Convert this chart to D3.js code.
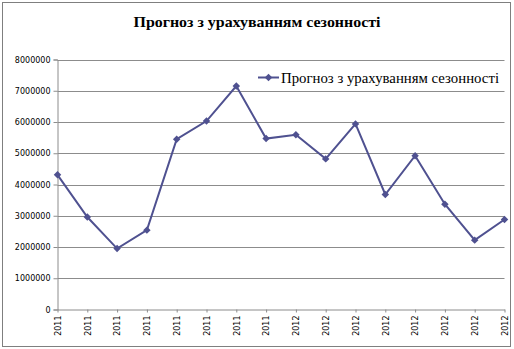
<!DOCTYPE html>
<html><head><meta charset="utf-8">
<script src="https://cdn.jsdelivr.net/npm/d3@7"></script>
<style>html,body{margin:0;padding:0;background:#fff}svg{display:block}</style>
</head><body>
<svg id="c" width="514" height="349"></svg>
<script>
const title = "Прогноз з урахуванням сезонності";
const seriesName = "Прогноз з урахуванням сезонності";
const categories = ["2011","2011","2011","2011","2011","2011","2011","2011","2012","2012","2012","2012","2012","2012","2012","2012"];
const values = [4310000, 2960000, 1950000, 2540000, 5450000, 6030000, 7150000, 5470000, 5590000, 4820000, 5940000, 3680000, 4920000, 3370000, 2220000, 2880000];
const yTicks = [0, 1000000, 2000000, 3000000, 4000000, 5000000, 6000000, 7000000, 8000000];

const svg = d3.select("#c");
const color = "#4F5190";
const grid = "#8c8c8c";

svg.append("rect").attr("x",2.5).attr("y",2.5).attr("width",508).attr("height",344)
  .attr("fill","#fff").attr("stroke","#7f7f7f").attr("stroke-width",1);

svg.append("text").attr("x",257).attr("y",27).attr("text-anchor","middle")
  .attr("font-family","Liberation Serif, Times New Roman, serif").attr("font-weight","bold")
  .attr("font-size","15.5px").attr("fill","#000").attr("textLength",247).attr("lengthAdjust","spacingAndGlyphs").text(title);

const idx = categories.map((d,i)=>i);
const x = d3.scalePoint().domain(idx).range([57.5, 504.5]);
const y = d3.scaleLinear().domain([0, 8000000]).range([309.5, 59.5]);

// gridlines
svg.append("g").selectAll("line").data(yTicks.slice(1)).join("line")
  .attr("x1",57.5).attr("x2",504.5).attr("y1",d=>Math.round(y(d))+0.5).attr("y2",d=>Math.round(y(d))+0.5)
  .attr("stroke",grid).attr("stroke-width",1);

// y axis
const yAxis = svg.append("g").attr("transform","translate(57.5,0)")
  .call(d3.axisLeft(y).tickValues(yTicks).tickFormat(d3.format("d")).tickSize(4).tickPadding(3));
yAxis.select(".domain").attr("stroke",grid);
yAxis.selectAll(".tick line").attr("stroke",grid);
yAxis.selectAll("text").attr("font-family","DejaVu Sans, Verdana, sans-serif").attr("font-size","8px").attr("fill","#000");

// x axis
const xAxis = svg.append("g").attr("transform","translate(0,309.5)")
  .call(d3.axisBottom(x).tickFormat(i=>categories[i]).tickSize(3).tickSizeOuter(0).tickPadding(3));
xAxis.select(".domain").attr("stroke",grid);
xAxis.selectAll(".tick line").attr("stroke",grid);
xAxis.selectAll("text").attr("font-family","DejaVu Sans, Verdana, sans-serif").attr("font-size","8px").attr("fill","#000")
  .attr("transform","rotate(-90)").attr("text-anchor","end").attr("dy","0.35em").attr("x",-6).attr("y",0);

// line
const line = d3.line().x((d,i)=>x(i)).y(d=>y(d));
svg.append("path").datum(values).attr("d",line).attr("fill","none").attr("stroke",color).attr("stroke-width",2);

const marker = d3.symbol().type(d3.symbolSquare).size(28);
svg.append("g").selectAll("path").data(values).join("path")
  .attr("d",marker).attr("transform",(d,i)=>`translate(${x(i)},${y(d)}) rotate(45)`).attr("fill",color);

// legend
const lg = svg.append("g");
lg.append("rect").attr("x",252).attr("y",66).attr("width",254).attr("height",24).attr("fill","#fff");
lg.append("line").attr("x1",258).attr("x2",279).attr("y1",77.5).attr("y2",77.5).attr("stroke",color).attr("stroke-width",2);
lg.append("path").attr("d",marker).attr("transform","translate(268.5,77.5) rotate(45)").attr("fill",color);
lg.append("text").attr("x",281).attr("y",82.5).attr("font-family","Liberation Serif, Times New Roman, serif")
  .attr("font-size","15px").attr("fill","#000").attr("textLength",218).attr("lengthAdjust","spacingAndGlyphs").text(seriesName);
</script>
</body></html>
